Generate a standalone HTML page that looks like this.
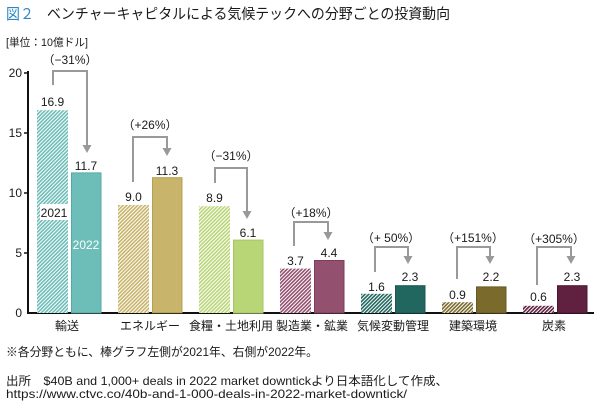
<!DOCTYPE html>
<html><head><meta charset="utf-8"><style>
html,body{margin:0;padding:0;background:#fff;}
svg{display:block;}
text{font-family:"Liberation Sans","Noto Sans CJK JP",sans-serif;fill:#1a1a1a;}
</style></head><body>
<svg width="600" height="405" viewBox="0 0 600 405" xmlns="http://www.w3.org/2000/svg">
<defs>
<pattern id="h1" patternUnits="userSpaceOnUse" width="2.6" height="2.6" patternTransform="rotate(45)"><rect width="2.6" height="2.6" fill="#fff"/><rect width="1.6" height="2.6" fill="#6dbdb8"/></pattern>
<pattern id="h2" patternUnits="userSpaceOnUse" width="2.6" height="2.6" patternTransform="rotate(45)"><rect width="2.6" height="2.6" fill="#fff"/><rect width="1.6" height="2.6" fill="#c8b46a"/></pattern>
<pattern id="h3" patternUnits="userSpaceOnUse" width="2.6" height="2.6" patternTransform="rotate(45)"><rect width="2.6" height="2.6" fill="#fff"/><rect width="1.6" height="2.6" fill="#b9d677"/></pattern>
<pattern id="h4" patternUnits="userSpaceOnUse" width="2.6" height="2.6" patternTransform="rotate(45)"><rect width="2.6" height="2.6" fill="#fff"/><rect width="1.6" height="2.6" fill="#93506f"/></pattern>
<pattern id="h5" patternUnits="userSpaceOnUse" width="2.6" height="2.6" patternTransform="rotate(45)"><rect width="2.6" height="2.6" fill="#fff"/><rect width="1.6" height="2.6" fill="#22675f"/></pattern>
<pattern id="h6" patternUnits="userSpaceOnUse" width="2.6" height="2.6" patternTransform="rotate(45)"><rect width="2.6" height="2.6" fill="#fff"/><rect width="1.6" height="2.6" fill="#7a6b2c"/></pattern>
<pattern id="h7" patternUnits="userSpaceOnUse" width="2.6" height="2.6" patternTransform="rotate(45)"><rect width="2.6" height="2.6" fill="#fff"/><rect width="1.6" height="2.6" fill="#5f213f"/></pattern>
</defs>

<!-- Title -->
<text x="6" y="19" font-size="15" style="fill:#2a86c6" textLength="28" lengthAdjust="spacingAndGlyphs">図２</text>
<text x="47" y="19" font-size="14.5" textLength="403" lengthAdjust="spacingAndGlyphs">ベンチャーキャピタルによる気候テックへの分野ごとの投資動向</text>
<text x="6" y="46" font-size="11" textLength="82" lengthAdjust="spacingAndGlyphs">[単位：10億ドル]</text>

<!-- Axis -->
<line x1="28" y1="71" x2="28" y2="314" stroke="#111" stroke-width="2"/>
<line x1="27" y1="313" x2="594" y2="313" stroke="#111" stroke-width="2"/>
<g stroke="#111" stroke-width="1.5">
<line x1="24" y1="73" x2="28" y2="73"/>
<line x1="24" y1="133" x2="28" y2="133"/>
<line x1="24" y1="193" x2="28" y2="193"/>
<line x1="24" y1="253" x2="28" y2="253"/>
</g>
<g font-size="12" text-anchor="end">
<text x="22" y="77">20</text>
<text x="22" y="137">15</text>
<text x="22" y="197">10</text>
<text x="22" y="257">5</text>
<text x="22" y="317">0</text>
</g>

<!-- Bars 2021 (hatched) -->
<rect x="37" y="110.2" width="31" height="202.8" fill="url(#h1)"/>
<rect x="118" y="205" width="31" height="108" fill="url(#h2)"/>
<rect x="199" y="206.2" width="31" height="106.8" fill="url(#h3)"/>
<rect x="280" y="268.6" width="31" height="44.4" fill="url(#h4)"/>
<rect x="361" y="293.8" width="31" height="19.2" fill="url(#h5)"/>
<rect x="442" y="302.2" width="31" height="10.8" fill="url(#h6)"/>
<rect x="523" y="305.8" width="31" height="7.2" fill="url(#h7)"/>

<!-- Bars 2022 (solid) -->
<rect x="71.5" y="172.9" width="29.5" height="140" fill="#6dbdb8" stroke="#55aaa6" stroke-width="1"/>
<rect x="152.5" y="177.7" width="29.5" height="135" fill="#c8b46a" stroke="#b5a053" stroke-width="1"/>
<rect x="233.5" y="240.1" width="29.5" height="73" fill="#b9d677" stroke="#a5c564" stroke-width="1"/>
<rect x="314.5" y="260.5" width="29.5" height="52.5" fill="#93506f" stroke="#7e3d5c" stroke-width="1"/>
<rect x="395.5" y="285.7" width="29.5" height="27.3" fill="#22675f" stroke="#1a5650" stroke-width="1"/>
<rect x="476.5" y="286.9" width="29.5" height="26.1" fill="#7a6b2c" stroke="#665821" stroke-width="1"/>
<rect x="557.5" y="285.7" width="29.5" height="27.3" fill="#5f213f" stroke="#4c1530" stroke-width="1"/>

<!-- 2021 / 2022 labels -->
<rect x="40" y="204" width="28" height="16" fill="#fff"/>
<text x="54" y="217" font-size="12" text-anchor="middle">2021</text>
<text x="86" y="249" font-size="12" text-anchor="middle" style="fill:#fff">2022</text>

<!-- Value labels -->
<g font-size="12" text-anchor="middle">
<text x="52.5" y="106">16.9</text>
<text x="86" y="170">11.7</text>
<text x="133.5" y="201">9.0</text>
<text x="167" y="175">11.3</text>
<text x="214.5" y="202">8.9</text>
<text x="248" y="237">6.1</text>
<text x="295.5" y="265">3.7</text>
<text x="329" y="257">4.4</text>
<text x="376.5" y="291">1.6</text>
<text x="410" y="281">2.3</text>
<text x="457.5" y="299">0.9</text>
<text x="491" y="281">2.2</text>
<text x="538.5" y="301">0.6</text>
<text x="572" y="281">2.3</text>
</g>

<!-- Brackets -->
<g fill="none" stroke="#999" stroke-width="2">
<polyline points="53,85 53,71 87,71 87,146"/>
<polyline points="133,182 133,137 167,137 167,149"/>
<polyline points="215,183 215,168 247,168 247,212"/>
<polyline points="294,246 294,222 328,222 328,233"/>
<polyline points="375,272 375,247 408,247 408,257"/>
<polyline points="457,279 457,247 490,247 490,257"/>
<polyline points="537,285 537,247 571,247 571,257"/>
</g>
<g fill="#999">
<polygon points="82.5,145 91.5,145 87,153"/>
<polygon points="162.5,148 171.5,148 167,156"/>
<polygon points="242.5,211 251.5,211 247,219"/>
<polygon points="323.5,232 332.5,232 328,240"/>
<polygon points="403.5,256 412.5,256 408,264"/>
<polygon points="485.5,256 494.5,256 490,264"/>
<polygon points="566.5,256 575.5,256 571,264"/>
</g>
<g font-size="12" text-anchor="middle">
<text x="70" y="64">（−31%）</text>
<text x="150" y="129">（+26%）</text>
<text x="231" y="160">（−31%）</text>
<text x="311" y="217">（+18%）</text>
<text x="391" y="242">（+ 50%）</text>
<text x="473" y="242">（+151%）</text>
<text x="554" y="243">（+305%）</text>
</g>

<!-- Category labels -->
<g font-size="12" text-anchor="middle">
<text x="67" y="330">輸送</text>
<text x="150" y="330">エネルギー</text>
<text x="231" y="330">食糧・土地利用</text>
<text x="312" y="330">製造業・鉱業</text>
<text x="393" y="330">気候変動管理</text>
<text x="473" y="330">建築環境</text>
<text x="554" y="330">炭素</text>
</g>

<!-- Notes -->
<text x="6" y="356" font-size="12" textLength="312" lengthAdjust="spacingAndGlyphs">※各分野ともに、棒グラフ左側が2021年、右側が2022年。</text>
<text x="6" y="385" font-size="12" textLength="442" lengthAdjust="spacingAndGlyphs">出所　$40B and 1,000+ deals in 2022 market downtickより日本語化して作成、</text>
<text x="6" y="398" font-size="12" textLength="401" lengthAdjust="spacingAndGlyphs">https://www.ctvc.co/40b-and-1-000-deals-in-2022-market-downtick/</text>
</svg>
</body></html>
